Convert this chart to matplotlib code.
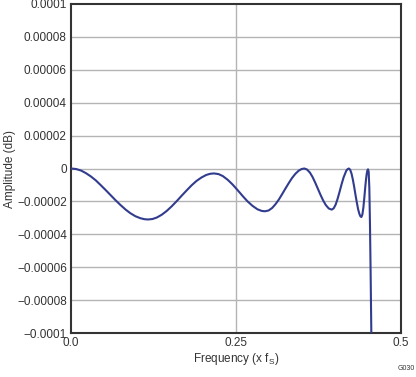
import numpy as np
import matplotlib.pyplot as plt

plt.rcParams['font.family'] = ['Liberation Sans', 'DejaVu Sans']

# frequency (x fS) and amplitude (x 1e-6 dB)
freq = [0.0, 0.0075, 0.015, 0.0225, 0.03, 0.0375, 0.045, 0.0525, 0.06, 0.0675,
        0.075, 0.0825, 0.09, 0.0975, 0.105, 0.111, 0.1167,
        0.1235, 0.13, 0.1375, 0.145, 0.1525, 0.16, 0.1675, 0.175, 0.1825,
        0.19, 0.1975, 0.205, 0.211, 0.2167,
        0.2235, 0.23, 0.2375, 0.245, 0.2525, 0.26, 0.2675, 0.275, 0.2825,
        0.289, 0.294,
        0.2995, 0.305, 0.31, 0.315, 0.32, 0.325, 0.33, 0.335, 0.34, 0.345,
        0.3495, 0.3535,
        0.3575, 0.362, 0.366, 0.37, 0.374, 0.378, 0.382, 0.386, 0.3905, 0.395,
        0.398, 0.401, 0.404, 0.407, 0.410, 0.413, 0.417, 0.419, 0.421,
        0.423, 0.425, 0.427, 0.429, 0.431, 0.433, 0.435, 0.437, 0.4385, 0.44,
        0.4415, 0.443, 0.4445, 0.446, 0.447, 0.448, 0.449, 0.45,
        0.451, 0.452, 0.453, 0.454, 0.455, 0.456]
amp_u = [0, -0.3, -1.2, -2.8, -4.8, -7.2, -10.1, -13.1, -16.2, -19.3,
         -22.2, -24.9, -27.2, -29.0, -30.2, -30.8, -31,
         -30.7, -29.8, -28.1, -25.8, -23.0, -19.9, -16.6, -13.4, -10.3,
         -7.6, -5.5, -3.9, -3.2, -3,
         -3.4, -4.6, -6.9, -9.8, -13.2, -16.7, -20.0, -22.7, -24.8,
         -25.8, -26,
         -25.5, -23.9, -21.6, -18.8, -15.5, -12.1, -8.8, -5.7, -3.2, -1.3,
         -0.3, 0,
         -0.6, -2.5, -5.2, -8.6, -12.3, -16.0, -19.4, -22.2, -24.3, -25,
         -24.2, -21.9, -18.3, -14, -9.5, -5.4, -1.4, -0.4, 0,
         -0.8, -3.1, -6.7, -11.1, -16, -20.6, -24.8, -27.7, -29.1, -29.5,
         -27.9, -23.6, -17.3, -10.5, -6.5, -3.3, -1.2, -0.5,
         -2, -12, -35, -65, -100, -140]
amp = np.array(amp_u) * 1e-6

yticks = [0.0001, 0.00008, 0.00006, 0.00004, 0.00002, 0,
          -0.00002, -0.00004, -0.00006, -0.00008, -0.0001]
ylabels = ['0.0001', '0.00008', '0.00006', '0.00004', '0.00002', '0',
           '\u22120.00002', '\u22120.00004', '\u22120.00006', '\u22120.00008', '\u22120.0001']
xticks = [0.0, 0.25, 0.5]
xlabels = ['0.0', '0.25', '0.5']

fig = plt.figure(figsize=(4.16, 3.77), dpi=100)
ax = fig.add_axes([0.1707, 0.1167, 0.7933, 0.8727])

for y in yticks[1:-1]:
    ax.axhline(y, color='#b4b4b4', lw=1.0, zorder=1)
ax.axvline(0.25, color='#b4b4b4', lw=1.0, zorder=1)

ax.plot(freq, amp, color='#323c8e', lw=1.5, zorder=3)

ax.set_xlim(0, 0.5)
ax.set_ylim(-0.0001, 0.0001)
ax.set_yticks(yticks)
ax.set_yticklabels(ylabels)
ax.set_xticks(xticks)
ax.set_xticklabels(xlabels)
ax.tick_params(length=0, labelsize=8.5, colors='#333333', pad=3)
for s in ax.spines.values():
    s.set_color('#333333')
    s.set_linewidth(1.5)

ax.set_xlabel('Frequency (x f$_\\mathregular{S}$)', fontsize=8.5, color='#333333', labelpad=1)
ax.set_ylabel('Amplitude (dB)', fontsize=8.5, color='#333333', labelpad=1)
fig.text(0.998, 0.012, 'G030', fontsize=5, ha='right', va='bottom', color='#333333')

fig.savefig('out.png', dpi=100)
